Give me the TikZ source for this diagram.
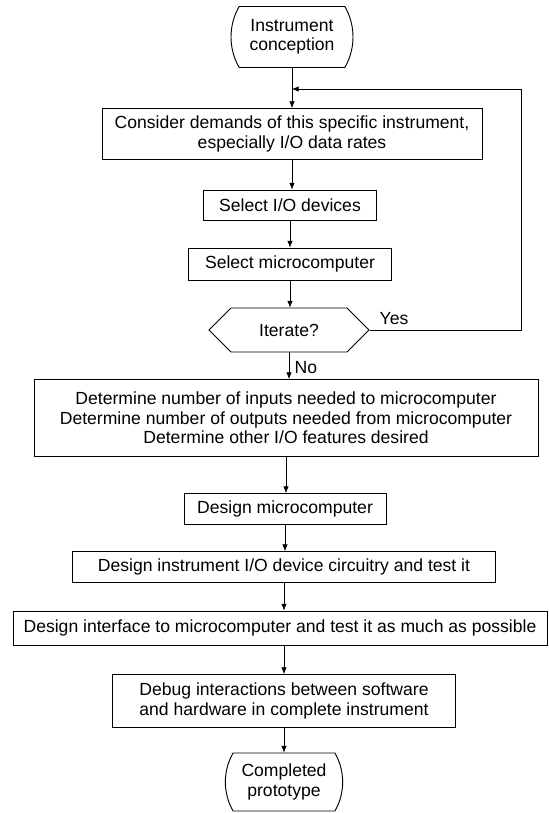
\documentclass[tikz,border=0pt]{standalone}
\usepackage{fontspec}
\setmainfont{Liberation Sans}
\usepackage{tikz}
\usetikzlibrary{arrows.meta, shapes.misc, shapes.symbols}
\newcommand{\chartfont}{\fontsize{15}{16.5}\selectfont}

\begin{document}
\begin{tikzpicture}[
    x=0.03cm, y=-0.03cm,
    procbox/.style={draw, line width=0.8pt, inner sep=2pt, align=center, font=\chartfont},
    terminal/.style={procbox, rounded rectangle, rounded rectangle arc length=60},
    decision/.style={procbox, signal, signal to=east and west},
    arr/.style={-{Latex[length=2mm, width=1.6mm]}, line width=0.5pt},
    lbl/.style={font=\chartfont, inner sep=1.5pt},
]
\useasboundingbox (0,0) rectangle (548,813);

% --- Main column ---
\node[terminal, minimum width=3.6cm, minimum height=1.83cm]   at (292, 37)  (start)   {Instrument\\conception};
\node[procbox, minimum width=11.4cm, minimum height=1.53cm]   at (292, 134) (demands) {Consider demands of this specific instrument,\\especially I/O data rates};
\node[procbox, minimum width=5.19cm, minimum height=0.9cm]    at (290, 205) (selio)   {Select I/O devices};
\node[procbox, minimum width=6.09cm, minimum height=0.96cm]   at (290, 264) (selmc)   {Select microcomputer};
\node[decision, minimum width=4.8cm, minimum height=1.32cm]   at (289, 330) (iterate) {Iterate?};
\node[procbox, minimum width=15.12cm, minimum height=2.31cm]  at (286, 418) (detio)   {Determine number of inputs needed to microcomputer\\Determine number of outputs needed from microcomputer\\Determine other I/O features desired};
\node[procbox, minimum width=6.06cm, minimum height=0.93cm]   at (285, 509) (desmc)   {Design microcomputer};
\node[procbox, minimum width=12.69cm, minimum height=0.93cm]  at (284, 567) (desio)   {Design instrument I/O device circuitry and test it};
\node[procbox, minimum width=16.02cm, minimum height=1.02cm]  at (280, 628) (desif)   {Design interface to microcomputer and test it as much as possible};
\node[procbox, minimum width=10.29cm, minimum height=1.59cm]  at (284, 701) (debug)   {Debug interactions between software\\and hardware in complete instrument};
\node[terminal, minimum width=3.66cm, minimum height=1.74cm]  at (284, 782) (done)    {Completed\\prototype};

\coordinate (loopjoin) at (292, 89);

% --- Nominal flow ---
\draw[line width=0.5pt] (start.south) -- (loopjoin);
\draw[arr] (loopjoin) -- (loopjoin |- demands.north);
\draw[arr] (demands.south) -- (demands.south |- selio.north);
\draw[arr] (selio.south)   -- (selio.south |- selmc.north);
\draw[arr] (selmc.south)   -- (selmc.south |- iterate.north);
\draw[arr] (iterate.south) -- node[lbl, right, pos=0.55, xshift=3pt] {No} (iterate.south |- detio.north);
\draw[arr] (detio.south)   -- (detio.south |- desmc.north);
\draw[arr] (desmc.south)   -- (desmc.south |- desio.north);
\draw[arr] (desio.south)   -- (desio.south |- desif.north);
\draw[arr] (desio.south |- desif.south) -- (desio.south |- debug.north);
\draw[arr] (debug.south)   -- (debug.south |- done.north);

% --- Iterate loop back ---
\draw[arr] (iterate.east) -- node[lbl, above, pos=0.16, yshift=3pt] {Yes} ++(152,0) |- (loopjoin);

\end{tikzpicture}
\end{document}
